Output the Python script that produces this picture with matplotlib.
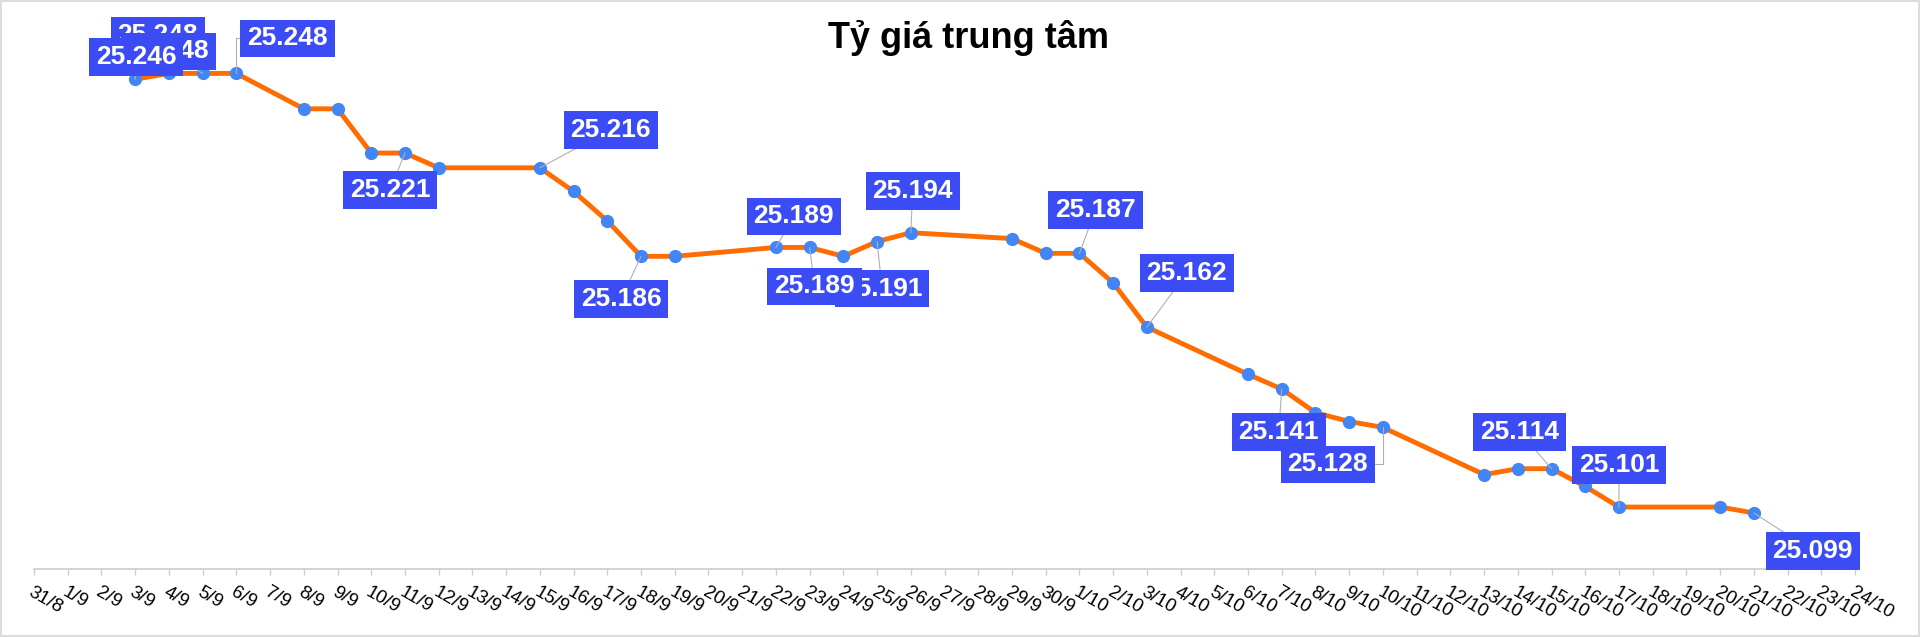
import matplotlib
matplotlib.use('Agg')
import matplotlib.pyplot as plt
from matplotlib.patches import Rectangle

plt.rcParams['font.family'] = ['Liberation Sans', 'DejaVu Sans']

# x axis: one tick per calendar day
x_labels = ["31/8"] + [f"{d}/9" for d in range(1, 31)] + [f"{d}/10" for d in range(1, 25)]

# central rate (VND/USD) on the days it was published
dates = ["3/9", "4/9", "5/9", "6/9", "8/9", "9/9", "10/9", "11/9", "12/9", "15/9",
         "16/9", "17/9", "18/9", "19/9", "22/9", "23/9", "24/9", "25/9", "26/9", "29/9",
         "30/9", "1/10", "2/10", "3/10", "6/10", "7/10", "8/10", "9/10", "10/10", "13/10",
         "14/10", "15/10", "16/10", "17/10", "20/10", "21/10"]
rates = [25246, 25248, 25248, 25248, 25236, 25236, 25221, 25221, 25216, 25216,
         25208, 25198, 25186, 25186, 25189, 25189, 25186, 25191, 25194, 25192,
         25187, 25187, 25177, 25162, 25146, 25141, 25133, 25130, 25128, 25112,
         25114, 25114, 25108, 25101, 25101, 25099]

# which points get a value box, and where the box sits (offset in pixels)
# later entries are drawn on top
elbow = "angle,angleA=0,angleB=90,rad=0"
label_pos = [("4/9", -11, 38, None), ("5/9", -34, 22, None), ("3/9", 1, 22, None),
             ("6/9", 51, 35, elbow),
             ("11/9", -15, -37, None), ("15/9", 71, 38, None), ("18/9", -20, -43, None),
             ("22/9", 18, 31, None), ("25/9", 5, -47, None), ("23/9", 5, -39, None),
             ("26/9", 2, 42, None), ("1/10", 16, 43, None), ("3/10", 40, 54, None),
             ("7/10", -3, -43, None), ("10/10", -55, -37, elbow),
             ("15/10", -32, 37, None), ("17/10", 0, 42, None), ("21/10", 59, -38, None)]

x = [x_labels.index(d) for d in dates]

fig = plt.figure(figsize=(19.2, 6.37), dpi=100)
ax = fig.add_axes([34 / 1920, 1 - 569 / 637, 1821 / 1920, 531 / 637])

ax.plot(x, rates, color='#ff6d01', lw=3.5, zorder=2, solid_joinstyle='round')
ax.plot(x, rates, 'o', color='#4285f4', ms=8.5, zorder=3)

ax.set_xlim(0, 54)
ax.set_ylim(25080, 25260)

for n, (d, dx, dy, style) in enumerate(label_pos):
    i = dates.index(d)
    txt = f"{rates[i]:,}".replace(",", ".")
    ax.annotate(txt, xy=(x[i], rates[i]), xytext=(dx, dy), textcoords='offset pixels',
                ha='center', va='center', fontsize=19, fontweight='bold', color='white',
                bbox=dict(boxstyle='square,pad=0.26', fc='#3b4cf5', ec='none'),
                arrowprops=dict(arrowstyle='-', color='#b0b0b0', lw=0.8, shrinkA=0, shrinkB=0,
                                connectionstyle=style or "arc3"),
                zorder=5 + n)

ax.set_xticks(range(len(x_labels)))
ax.set_xticklabels(x_labels, rotation=-30, ha='left', va='top', rotation_mode='anchor',
                   fontsize=13.5)
ax.tick_params(axis='x', length=4.5, color='#cccccc', width=1, pad=6)
ax.set_yticks([])
for s in ['top', 'left', 'right']:
    ax.spines[s].set_visible(False)
ax.spines['bottom'].set_color('#cccccc')
ax.spines['bottom'].set_linewidth(1.2)

fig.text(969 / 1920, 1 - 48 / 637, "Tỷ giá trung tâm", ha='center', va='baseline',
         fontsize=26, fontweight='bold')

fig.patches.append(Rectangle((0.0005, 0.001), 0.999, 0.998, transform=fig.transFigure,
                             fill=False, ec='#dcdcdc', lw=1.5))

fig.savefig('out.png', dpi=100)
